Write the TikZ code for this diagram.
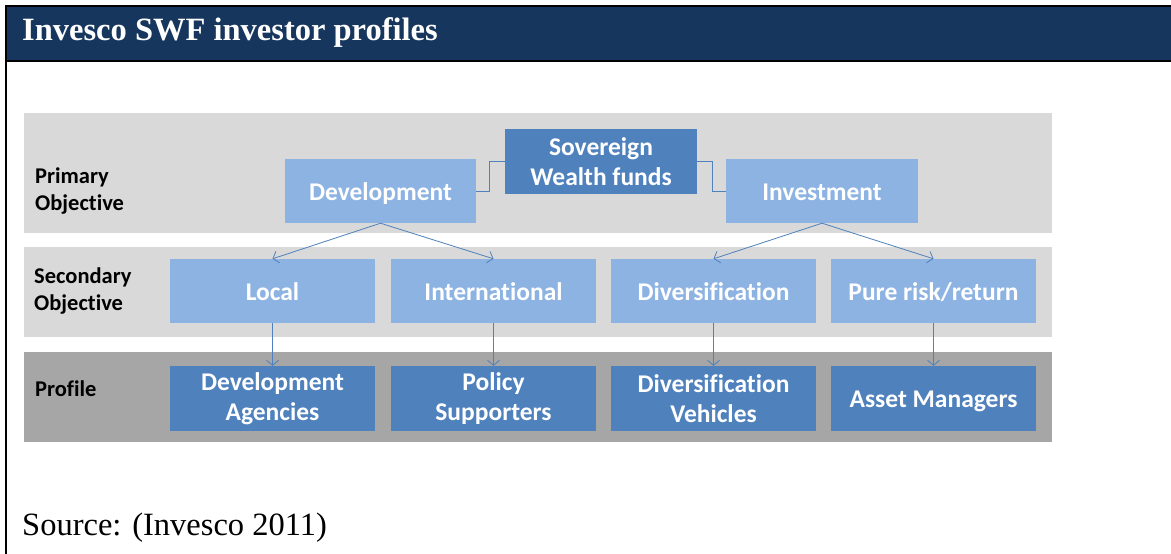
\documentclass[tikz,border=0pt]{standalone}
\usepackage{fontspec}
\setmainfont{Liberation Serif}
\newfontfamily\calfont[Ligatures={NoCommon}]{Carlito}
\usetikzlibrary{arrows.meta}
\definecolor{hdr}{HTML}{17365D}
\definecolor{bandl}{HTML}{D9D9D9}
\definecolor{bandd}{HTML}{A6A6A6}
\definecolor{dkblue}{HTML}{4F81BD}
\definecolor{ltblue}{HTML}{8DB3E2}
\newcommand{\oneline}[1]{\raisebox{-9pt}[0pt][0pt]{#1}}
\begin{document}
\begin{tikzpicture}[x=1pt,y=-1pt,
  box/.style={minimum width=205pt, minimum height=64pt, inner sep=0pt, text=white,
    font=\calfont\bfseries\fontsize{25.5}{30}\selectfont, align=center},
  ltbox/.style={box, fill=ltblue},
  dkbox/.style={box, fill=dkblue},
  lbl/.style={anchor=west, inner sep=0pt, align=left, text=black,
    font=\calfont\bfseries\fontsize{22.5}{27}\selectfont},
  conn/.style={draw=dkblue, line width=0.8pt},
  arr/.style={conn, -{Straight Barb[length=5pt,width=12pt,line width=0.8pt]}}
]
\useasboundingbox (0,0) rectangle (1171,554);
\fill[white] (0,0) rectangle (1171,554);
% header
\fill[hdr] (5,5) rectangle (1171,62);
\draw[line width=2pt] (1171,6) -- (6,6) -- (6,554);
\draw[line width=2pt] (6,61) -- (1171,61);
\node[anchor=base west, inner sep=0pt, text=white, font=\bfseries\fontsize{32.5}{38}\selectfont] (title) at (22,40) {Invesco SWF investor profiles};
% bands
\fill[bandl] (24,113) rectangle (1052,233);
\fill[bandl] (24,247) rectangle (1052,337);
\fill[bandd] (24,352) rectangle (1052,442);
% row labels
\node[lbl] (l1) at (35,191.5) {Primary\\Objective};
\node[lbl] (l2) at (34,291.5) {Secondary\\Objective};
\node[lbl] (l3) at (35,389) {Profile};
% primary
\node[dkbox, minimum width=192pt, minimum height=65pt] (swf) at (601,161.5) {\raisebox{-1.5pt}{Sovereign}\\\raisebox{-1.5pt}{Wealth funds}};
\node[ltbox, minimum width=191pt] (dev) at (380.5,191) {\oneline{Development}};
\node[ltbox, minimum width=192pt] (inv) at (822,191) {\oneline{Investment}};
% secondary
\node[ltbox] (loc) at (272.5,291) {\oneline{Local}};
\node[ltbox] (intl) at (493.5,291) {\oneline{International}};
\node[ltbox] (div) at (713.5,291) {\oneline{Diversification}};
\node[ltbox] (pure) at (933.5,291) {\oneline{Pure risk/return}};
% profile
\node[dkbox, minimum height=65pt] (da) at (272.5,398.5) {Development\\Agencies};
\node[dkbox, minimum height=65pt] (ps) at (493.5,398.5) {Policy\\Supporters};
\node[dkbox, minimum height=65pt] (dv) at (713.5,398.5) {Diversification\\Vehicles};
\node[dkbox, minimum height=65pt] (am) at (933.5,398.5) {\oneline{Asset Managers}};
% connectors
\draw[conn] (swf.west) -- ++(-15,0) |- (dev.east);
\draw[conn] (swf.east) -- ++(15,0) |- (inv.west);
\draw[arr] (dev.south) -- (loc.north);
\draw[arr] (dev.south) -- (intl.north);
\draw[arr] (inv.south) -- (div.north);
\draw[arr] (inv.south) -- (pure.north);
\draw[arr] (loc.south) -- (da.north);
\draw[arr] (intl.south) -- (ps.north);
\draw[arr] (div.south) -- (dv.north);
\draw[arr] (pure.south) -- (am.north);
% source
\node[anchor=base west, inner sep=0pt, font=\fontsize{32.5}{38}\selectfont] (src) at (22,535) {Source: (Invesco 2011)};
\end{tikzpicture}
\end{document}
